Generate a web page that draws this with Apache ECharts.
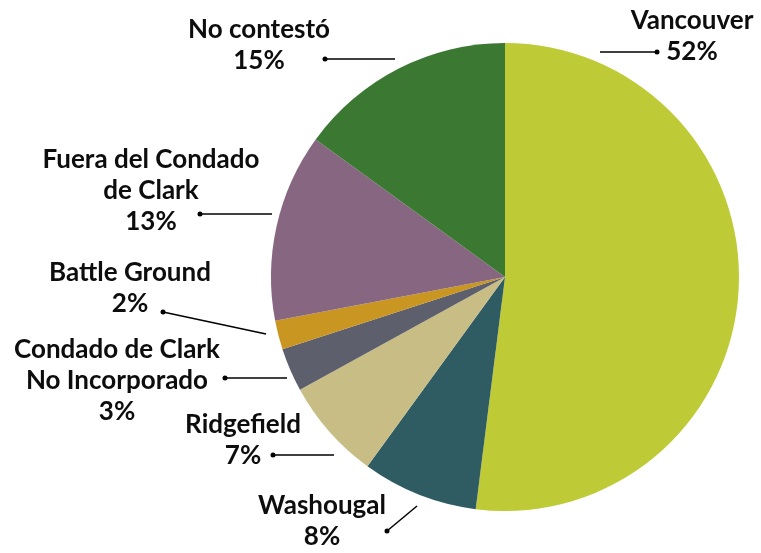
<!DOCTYPE html>
<html>
<head>
<meta charset="utf-8">
<script src="https://cdn.jsdelivr.net/npm/echarts@6/dist/echarts.min.js"></script>
<style>
  html, body { margin: 0; padding: 0; background: #fff; }
  #chart { width: 761px; height: 553px; }
</style>
</head>
<body>
<div id="chart"></div>
<script>
const categories = ["Vancouver", "Washougal", "Ridgefield", "Condado de Clark\nNo Incorporado", "Battle Ground", "Fuera del Condado\nde Clark", "No contestó"];
const values = [52, 8, 7, 3, 2, 13, 15];
const colors = ["#bfcb36", "#2f5b63", "#c8bd85", "#5d5f6d", "#ca9622", "#876682", "#3b7832"];

// label centres and leader lines (dot end first)
const labelSpots = [
  { x: 692, y: 36, line: [[657, 52], [600, 52]] },
  { x: 322, y: 521, line: [[387, 531], [417, 506]] },
  { x: 243, y: 440, line: [[273, 455], [334, 455]] },
  { x: 117, y: 381, line: [[225, 378], [287, 378]] },
  { x: 130, y: 288, line: [[163, 312], [266, 334]] },
  { x: 151, y: 191, line: [[200, 214], [272, 214]] },
  { x: 259, y: 45, line: [[325, 59], [395, 59]] }
];

const chart = echarts.init(document.getElementById("chart"));

chart.setOption({
  animation: false,
  color: colors,
  graphic: labelSpots.map(s => ({
    type: "circle",
    shape: { cx: s.line[0][0], cy: s.line[0][1], r: 2.5 },
    style: { fill: "#000" },
    z: 10
  })),
  series: [
    {
      type: "pie",
      center: [505, 277],
      radius: 234,
      startAngle: 90,
      clockwise: true,
      avoidLabelOverlap: false,
      data: categories.map((c, i) => ({ name: c, value: values[i] })),
      label: {
        show: true,
        formatter: "{b}\n{d}%",
        fontFamily: "Lato",
        fontWeight: "bold",
        fontSize: 26,
        lineHeight: 31,
        color: "#0d0d0d",
        align: "center",
        overflow: "none"
      },
      labelLine: {
        show: true,
        lineStyle: { color: "#000", width: 1.5 }
      },
      labelLayout: (params) => {
        const s = labelSpots[params.dataIndex];
        return {
          x: s.x,
          y: s.y,
          align: "center",
          verticalAlign: "middle",
          hideOverlap: false,
          labelLinePoints: s.line
        };
      }
    }
  ]
});
</script>
</body>
</html>
